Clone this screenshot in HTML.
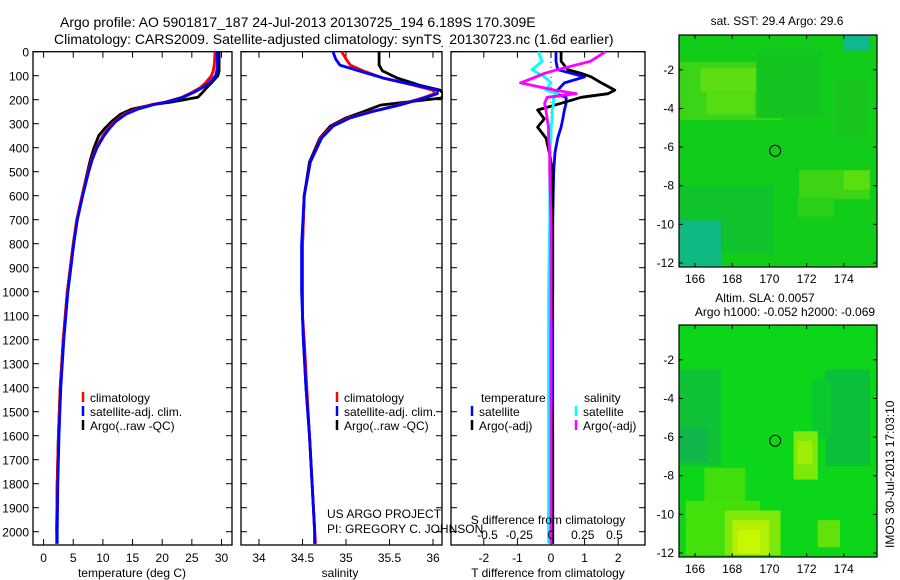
<!DOCTYPE html>
<html><head><meta charset="utf-8"><style>
body{margin:0;background:#fff;}
svg{display:block;font-family:"Liberation Sans",sans-serif;}
text{fill:#000;}
</style></head><body>
<svg id="c" width="900" height="580" viewBox="0 0 900 580" xmlns="http://www.w3.org/2000/svg">
<text x="60" y="27" font-size="14">Argo profile: AO 5901817_187 24-Jul-2013 20130725_194 6.189S 170.309E</text>
<text x="54" y="44" font-size="14">Climatology: CARS2009. Satellite-adjusted climatology: synTS_20130723.nc (1.6d earlier)</text>
</svg>
<script>
// ---- data ----
const depthTicks=[0,100,200,300,400,500,600,700,800,900,1000,1100,1200,1300,1400,1500,1600,1700,1800,1900,2000];
const tTicks=[0,5,10,15,20,25,30];
const sTicks=[34,34.5,35,35.5,36];
const sTickLabels=["34","34.5","35","35.5","36"];
const dtTicks=[-2,-1,0,1,2];
const dsTicks=[-0.5,-0.25,0,0.25,0.5];
const dsTickLabels=["-0.5","-0.25","0","0.25","0.5"];
const tDepth=[0,50,80,100,130,150,170,190,210,220,240,260,290,320,350,400,450,500,600,700,800,900,1000,1200,1400,1600,1800,2000,2050];
const tClim=[28.9,28.8,28.6,28.3,27.3,26.4,25.0,23.3,20.5,18.3,15.5,13.6,12.0,10.9,10.0,8.9,8.1,7.5,6.5,5.6,5.0,4.5,4.0,3.3,2.8,2.5,2.3,2.2,2.2];
const tSat=[29.3,29.3,29.2,29.0,27.9,26.8,25.3,23.5,20.7,18.6,15.8,13.9,12.2,11.1,10.2,9.0,8.2,7.6,6.6,5.7,5.1,4.6,4.1,3.4,2.9,2.6,2.4,2.3,2.3];
const tArgo=[29.6,29.6,29.6,29.4,28.3,27.5,26.8,26.0,21.5,18.5,14.8,13.0,11.5,10.3,9.3,8.5,7.9,7.4,6.5,5.6,5.0,4.5,4.0,3.3,2.8,2.5,2.3,2.2];
const sDepth=[0,30,56,80,110,140,160,175,193,222,250,276,310,360,460,600,805,1000,1100,1200,1400,1600,1800,2000,2050];
const sClim=[34.95,35.0,35.05,35.2,35.43,35.78,36.0,36.02,35.88,35.6,35.28,35.03,34.84,34.71,34.59,34.52,34.5,34.5,34.5,34.52,34.55,34.58,34.61,34.64,34.65];
const sSat=[34.85,34.88,34.93,35.15,35.43,35.8,36.05,36.05,35.9,35.62,35.3,35.05,34.85,34.72,34.59,34.52,34.49,34.49,34.5,34.51,34.54,34.58,34.61,34.64,34.64];
const sArgo=[35.38,35.38,35.38,35.42,35.59,35.85,36.08,36.12,36.1,35.4,35.2,35.0,34.82,34.7,34.58,34.52,34.5,34.5,34.5,34.51,34.54,34.58,34.61,34.64,34.64];
const dDepth=[0,40,75,90,105,130,160,175,190,215,243,280,314,360,420,500,700,1000,1300,1600,2000,2050];
const dtArgo=[0.3,0.3,0.5,0.9,1.2,1.5,1.9,1.7,0.9,0.3,-0.4,-0.2,-0.4,-0.15,-0.05,0.05,0.05,0.05,-0.05,0.05,0.05,0.05];
const dtSat=[0.15,0.15,0.2,0.6,1.0,0.4,0.2,0.15,0.45,0.45,0.4,0.35,0.3,0.2,0.12,0.08,0.05,0.05,0.05,0.05,0.05,0.05];
const dsArgo=[0.43,0.31,0.05,-0.05,-0.12,-0.24,0.03,0.2,-0.03,-0.05,-0.04,-0.03,-0.02,-0.02,-0.01,-0.01,0,0,0,0,0,0];
const dsSat=[-0.1,-0.07,-0.15,-0.1,-0.05,0.0,-0.04,0.05,0.02,0.02,0.01,0.01,0.0,0.0,-0.01,-0.01,-0.01,-0.02,-0.02,-0.02,-0.02,-0.02];
const lonTicks=[166,168,170,172,174];
const latTicks=[-2,-4,-6,-8,-10,-12];
const floatLon=170.309, floatLat=-6.189;

// ---- helpers ----
const svg=document.getElementById('c');
const NS='http://www.w3.org/2000/svg';
function mk(tag,attrs,parent){const e=document.createElementNS(NS,tag);for(const k in attrs)e.setAttribute(k,attrs[k]);(parent||svg).appendChild(e);return e;}
const yD=d=>51.7+d*0.24;
const xT=t=>43.6+t*5.93;
const xS=s=>259+(s-34)*87;
const xDT=t=>551+t*33.6;
const xDS=s=>551+s*127;
const TOP=51.7,BOT=545;

function panel(name,x0,x1){
  const g=mk('g',{});
  
  
  mk('rect',{x:x0,y:TOP,width:x1-x0,height:BOT-TOP,fill:'#fff',stroke:'#000','stroke-width':1.3},g);
  depthTicks.forEach(d=>{const y=yD(d);mk('line',{x1:x0,x2:x0+6,y1:y,y2:y,stroke:'#000'},g);mk('line',{x1:x1-6,x2:x1,y1:y,y2:y,stroke:'#000'},g);});
  return g;
}
function series(g,name,xs,ds,fx,color,w){
  const p=xs.map((v,i)=>fx(v).toFixed(1)+','+yD(ds[i]).toFixed(1)).join(' ');
  const e=mk('polyline',{points:p,fill:'none',stroke:color,'stroke-width':w||2.8,'stroke-linejoin':'round'},g);
  
  
}
function xticks(g,ticks,labels,fx,x0,x1,yl){
  ticks.forEach((t,i)=>{const x=fx(t);mk('line',{x1:x,x2:x,y1:BOT-6,y2:BOT,stroke:'#000'},g);mk('line',{x1:x,x2:x,y1:TOP,y2:TOP+6,stroke:'#000'},g);
    const tx=mk('text',{x:x,y:yl,'font-size':12,'text-anchor':'middle'},g);tx.textContent=labels[i];});
}
function legend(g,x,y,items){
  items.forEach((it,i)=>{mk('line',{x1:x,x2:x,y1:y+i*14-10,y2:y+i*14,stroke:it[1],'stroke-width':2.5},g);
    const t=mk('text',{x:x+7,y:y+i*14,'font-size':12},g);t.textContent=it[0];
    });
}

// ---- panel 1: temperature ----
const p1=panel('temperature-panel',33,232);
depthTicks.forEach(d=>{const t=mk('text',{x:29,y:yD(d)+5,'font-size':12,'text-anchor':'end'},p1);t.textContent=d;});
xticks(p1,tTicks,tTicks.map(String),xT,33,232,562);
series(p1,'temperature-argo',tArgo,tDepth,xT,'#000');
series(p1,'temperature-climatology',tClim,tDepth,xT,'#f00');
series(p1,'temperature-satellite-adj',tSat,tDepth,xT,'#00f');
{const t=mk('text',{x:132,y:577,'font-size':12,'text-anchor':'middle'},p1);t.textContent='temperature (deg C)';}
legend(p1,83,402,[['climatology','#f00'],['satellite-adj. clim.','#00f'],['Argo(..raw -QC)','#000']]);

// ---- panel 2: salinity ----
const p2=panel('salinity-panel',241,442);
xticks(p2,sTicks,sTickLabels,xS,241,442,562);
series(p2,'salinity-argo',sArgo,sDepth,xS,'#000');
series(p2,'salinity-climatology',sClim,sDepth,xS,'#f00');
series(p2,'salinity-satellite-adj',sSat,sDepth,xS,'#00f');
mk('rect',{x:443,y:40,width:6,height:520,fill:'#fff'});
{const t=mk('text',{x:340,y:577,'font-size':12,'text-anchor':'middle'},p2);t.textContent='salinity';}
legend(p2,337,402,[['climatology','#f00'],['satellite-adj. clim.','#00f'],['Argo(..raw -QC)','#000']]);

// ---- panel 3: differences ----
const p3=panel('difference-panel',451,645);
xticks(p3,dtTicks,dtTicks.map(String),xDT,451,645,562);
mk('line',{x1:xDT(0),x2:xDT(0),y1:TOP,y2:BOT,stroke:'#000','stroke-dasharray':'1,4'},p3);
series(p3,'t-diff-satellite',dtSat,dDepth,xDT,'#00f');
series(p3,'t-diff-argo',dtArgo,dDepth,xDT,'#000');
series(p3,'s-diff-satellite',dsSat,dDepth,xDS,'#0ff');
series(p3,'s-diff-argo',dsArgo,dDepth,xDS,'#f0f');
dsTicks.forEach((s,i)=>{const t=mk('text',{x:xDS(s),y:539,'font-size':12,'text-anchor':'middle'},p3);t.textContent=dsTickLabels[i];});
{const t=mk('text',{x:548,y:524,'font-size':12,'text-anchor':'middle'},p3);t.textContent='S difference from climatology';}
{const t=mk('text',{x:548,y:577,'font-size':12,'text-anchor':'middle'},p3);t.textContent='T difference from climatology';}
{const t=mk('text',{x:481,y:402,'font-size':12},p3);t.textContent='temperature';}
{const t=mk('text',{x:584,y:402,'font-size':12},p3);t.textContent='salinity';}
legend(p3,472,416,[['satellite','#00f'],['Argo(-adj)','#000']]);
legend(p3,576,416,[['satellite','#0ff'],['Argo(-adj)','#f0f']]);
{const t=mk('text',{x:327,y:518,'font-size':12});t.textContent='US ARGO PROJECT';}
{const t=mk('text',{x:327,y:533,'font-size':12});t.textContent='PI: GREGORY C. JOHNSON';}

// ---- maps ----
function map(name,y0,y1,base,patches){
  const x0=679,x1=877;
  const g=mk('g',{});
  
  
  const lx=l=>695+(l-166)*18.6;
  const latY=l=>{const a=y1-4, b=a-193.2; return a+(l+12)*(b-a)/10;};
  mk('rect',{x:x0,y:y0,width:x1-x0,height:y1-y0,fill:base},g);
  const cp=mk('clipPath',{id:'clip-'+name},g);
  mk('rect',{x:x0,y:y0,width:x1-x0,height:y1-y0},cp);
  const pg=mk('g',{'clip-path':'url(#clip-'+name+')'},g);
  patches.forEach(p=>mk('rect',{x:lx(p[0]),y:latY(p[1]),width:p[2]*18.6,height:p[3]*19.32,fill:p[4]},pg));
  mk('rect',{x:x0,y:y0,width:x1-x0,height:y1-y0,fill:'none',stroke:'#000','stroke-width':1.2},g);
  lonTicks.forEach(l=>{const x=lx(l);mk('line',{x1:x,x2:x,y1:y1,y2:y1-4,stroke:'#000'},g);mk('line',{x1:x,x2:x,y1:y0,y2:y0+4,stroke:'#000'},g);
    const t=mk('text',{x:x,y:y1+16,'font-size':12,'text-anchor':'middle'},g);t.textContent=l;});
  latTicks.forEach(l=>{const y=latY(l);mk('line',{x1:x0,x2:x0+4,y1:y,y2:y,stroke:'#000'},g);mk('line',{x1:x1-4,x2:x1,y1:y,y2:y,stroke:'#000'},g);
    const t=mk('text',{x:x0-5,y:y+4,'font-size':12,'text-anchor':'end'},g);t.textContent=l;});
  const c=mk('circle',{cx:lx(floatLon),cy:latY(floatLat),r:5.5,fill:'none',stroke:'#000','stroke-width':1},g);
  
  return g;
}
map('sst-map',35,267,'#12cc1a',[
 [165.2,-1.6,5.5,3.0,'#3cd416'],[166.3,-1.9,3.2,1.2,'#5cde12'],[166.6,-3.0,2.6,1.3,'#55dc12'],
 [169.3,-1.0,3.5,3.5,'#14c420'],[171.6,-7.2,3.8,1.5,'#3ed416'],[174,-7.2,1.4,1,'#5ade10'],
 [171.5,-8.6,2,1,'#2ad018'],[165.2,-8,5,3.5,'#10c22c'],[165.2,-9.8,2.2,2.4,'#10b884'],
 [174,-0.1,1.4,0.9,'#10b890'],[173.5,-2.5,1.8,3,'#18c61e']]);
map('sla-map',325,557,'#0cd61a',[
 [165.2,-2.5,2.2,5,'#10c236'],[165.2,-5.5,1.5,1.8,'#10b84c'],[173,-2.5,2.4,5,'#0cbf3a'],[172.3,-3,1,3,'#0cc830'],
 [166.5,-7.6,2.2,2,'#40de0c'],[165.5,-9.3,4,2.8,'#44e00c'],[167.6,-9.8,3,2.3,'#7ee80a'],[168,-10.3,2,1.8,'#b0f004'],[168.3,-10.8,1.2,1.2,'#c8f800'],
 [171.3,-5.7,1.3,2.5,'#7ee80a'],[171.5,-6.2,0.8,1.2,'#a0ee06'],[172.6,-10.3,1.2,1.4,'#60e20a']]);
{const t=mk('text',{x:777,y:25,'font-size':12,'text-anchor':'middle'});t.textContent='sat. SST: 29.4  Argo: 29.6';}
{const t=mk('text',{x:765,y:302,'font-size':12,'text-anchor':'middle'});t.textContent='Altim. SLA: 0.0057';}
{const t=mk('text',{x:785,y:316,'font-size':12,'text-anchor':'middle'});t.textContent='Argo h1000: -0.052 h2000: -0.069';}
{const t=mk('text',{x:0,y:0,'font-size':12,transform:'translate(894,548) rotate(-90)'});t.textContent='IMOS 30-Jul-2013 17:03:10';}
</script>
</body></html>
